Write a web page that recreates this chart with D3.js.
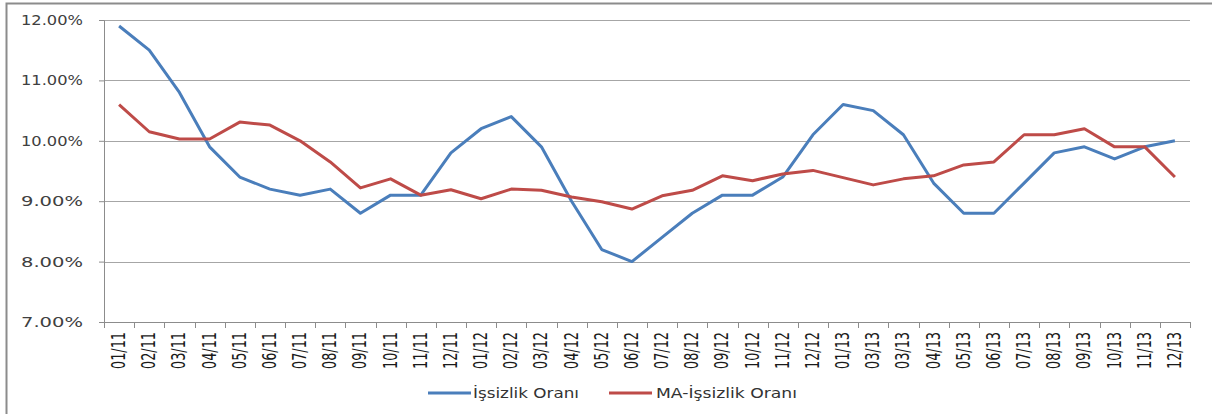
<!DOCTYPE html>
<html>
<head>
<meta charset="utf-8">
<script src="https://cdn.jsdelivr.net/npm/d3@7"></script>
<style>
  body { margin: 0; background: #fff; }
</style>
</head>
<body>
<div id="chart"></div>
<script>
// category labels (note: 03/13 appears twice in the source)
const months = ["01/11","02/11","03/11","04/11","05/11","06/11","07/11","08/11","09/11","10/11","11/11","12/11",
    "01/12","02/12","03/12","04/12","05/12","06/12","07/12","08/12","09/12","10/12","11/12","12/12",
    "01/13","03/13","03/13","04/13","05/13","06/13","07/13","08/13","09/13","10/13","11/13","12/13"];

const issizlik = [11.9, 11.5, 10.8, 9.9, 9.4, 9.2, 9.1, 9.2, 8.8, 9.1, 9.1, 9.8,
    10.2, 10.4, 9.9, 9.0, 8.2, 8.0, 8.4, 8.8, 9.1, 9.1, 9.4, 10.1,
    10.6, 10.5, 10.1, 9.3, 8.8, 8.8, 9.3, 9.8, 9.9, 9.7, 9.9, 10.0];

const maIssizlik = [10.6, 10.15, 10.03, 10.03, 10.31, 10.26, 10.0, 9.65, 9.22, 9.37, 9.1, 9.19,
    9.04, 9.2, 9.18, 9.07, 8.99, 8.87, 9.09, 9.18, 9.42, 9.34, 9.45, 9.51,
    9.39, 9.27, 9.37, 9.42, 9.6, 9.65, 10.1, 10.1, 10.2, 9.9, 9.9, 9.4];

const yTicks = [7, 8, 9, 10, 11, 12];

const seriesNames = ["İşsizlik Oranı", "MA-İşsizlik Oranı"];
const seriesColors = ["#4a7ebb", "#be4b48"];

const canvW = 1212, canvH = 414;
const margin = {top: 20, left: 104, right: 22, bottom: 92};
const width = canvW - margin.left - margin.right;
const height = canvH - margin.top - margin.bottom;

const svg = d3.select('#chart')
    .append('svg')
    .attr('width', canvW)
    .attr('height', canvH);

// outer chart frame
svg.append('rect')
    .attr('x', 6.5).attr('y', 3.5)
    .attr('width', canvW + 10).attr('height', canvH + 10)
    .attr('fill', 'none')
    .attr('stroke', '#8c8c8c')
    .attr('stroke-width', 2);

const g = svg.append('g')
    .attr('transform', `translate(${margin.left},${margin.top})`);

const x = d3.scaleBand()
    .domain(d3.range(months.length))
    .range([0, width]);

const y = d3.scaleLinear()
    .domain([7, 12])
    .range([height, 0]);

// gridlines
g.append('g')
    .selectAll('line')
    .data(yTicks)
    .join('line')
    .attr('x1', 0).attr('x2', width)
    .attr('y1', d => Math.round(y(d)) + 0.5)
    .attr('y2', d => Math.round(y(d)) + 0.5)
    .attr('stroke', '#a6a6a6')
    .attr('stroke-width', 1);

// Y axis
const yAxis = g.append('g')
    .attr('class', 'yaxis')
    .call(d3.axisLeft(y).tickValues(yTicks).tickSize(5).tickPadding(16)
        .tickFormat(d => d3.format('.2f')(d) + '%'));
yAxis.select('.domain').attr('stroke', '#8c8c8c');
yAxis.selectAll('.tick line').attr('stroke', '#8c8c8c');
yAxis.selectAll('text')
    .attr('font-family', 'DejaVu Sans, Verdana, sans-serif')
    .attr('font-size', 14)
    .attr('fill', '#404040')
    .attr('textLength', 62)
    .attr('lengthAdjust', 'spacingAndGlyphs');

// X axis (ticks at band edges)
const xAxis = g.append('g')
    .attr('class', 'xaxis')
    .attr('transform', `translate(0,${height})`);
xAxis.append('line')
    .attr('x1', 0).attr('x2', width)
    .attr('y1', 0.5).attr('y2', 0.5)
    .attr('stroke', '#8c8c8c');
xAxis.selectAll('.edge')
    .data(d3.range(months.length + 1))
    .join('line')
    .attr('class', 'edge')
    .attr('x1', i => Math.round(i * x.step()) + 0.5)
    .attr('x2', i => Math.round(i * x.step()) + 0.5)
    .attr('y1', 0).attr('y2', 6)
    .attr('stroke', '#8c8c8c');
xAxis.selectAll('.lbl')
    .data(months)
    .join('text')
    .attr('class', 'lbl')
    .attr('transform', (d, i) => `translate(${x(i) + x.bandwidth() / 2 + 6},10) rotate(-90) scale(1,1.2)`)
    .attr('text-anchor', 'end')
    .attr('font-family', 'Liberation Sans Narrow, DejaVu Sans Condensed, sans-serif')
    .attr('font-size', 16)
    .attr('fill', '#1a1a1a')
    .attr('textLength', 37)
    .attr('lengthAdjust', 'spacingAndGlyphs')
    .text(d => d);

// lines
const line = d3.line()
    .x((d, i) => x(i) + x.bandwidth() / 2)
    .y(d => y(d));

[issizlik, maIssizlik].forEach((series, k) => {
    g.append('path')
        .datum(series)
        .attr('fill', 'none')
        .attr('stroke', seriesColors[k])
        .attr('stroke-width', 3)
        .attr('stroke-linejoin', 'round')
        .attr('d', line);
});

// legend
const legendPos = [{x: 428, tx: 473, w: 106}, {x: 609, tx: 656, w: 141}];
const legend = svg.append('g');
seriesNames.forEach((name, k) => {
    legend.append('line')
        .attr('x1', legendPos[k].x).attr('x2', legendPos[k].x + 43)
        .attr('y1', 393).attr('y2', 393)
        .attr('stroke', seriesColors[k])
        .attr('stroke-width', 3);
    legend.append('text')
        .attr('x', legendPos[k].tx)
        .attr('y', 398)
        .attr('font-family', 'DejaVu Sans, Verdana, sans-serif')
        .attr('font-size', 14)
        .attr('fill', '#333')
        .attr('textLength', legendPos[k].w)
        .attr('lengthAdjust', 'spacingAndGlyphs')
        .text(name);
});
</script>
</body>
</html>
